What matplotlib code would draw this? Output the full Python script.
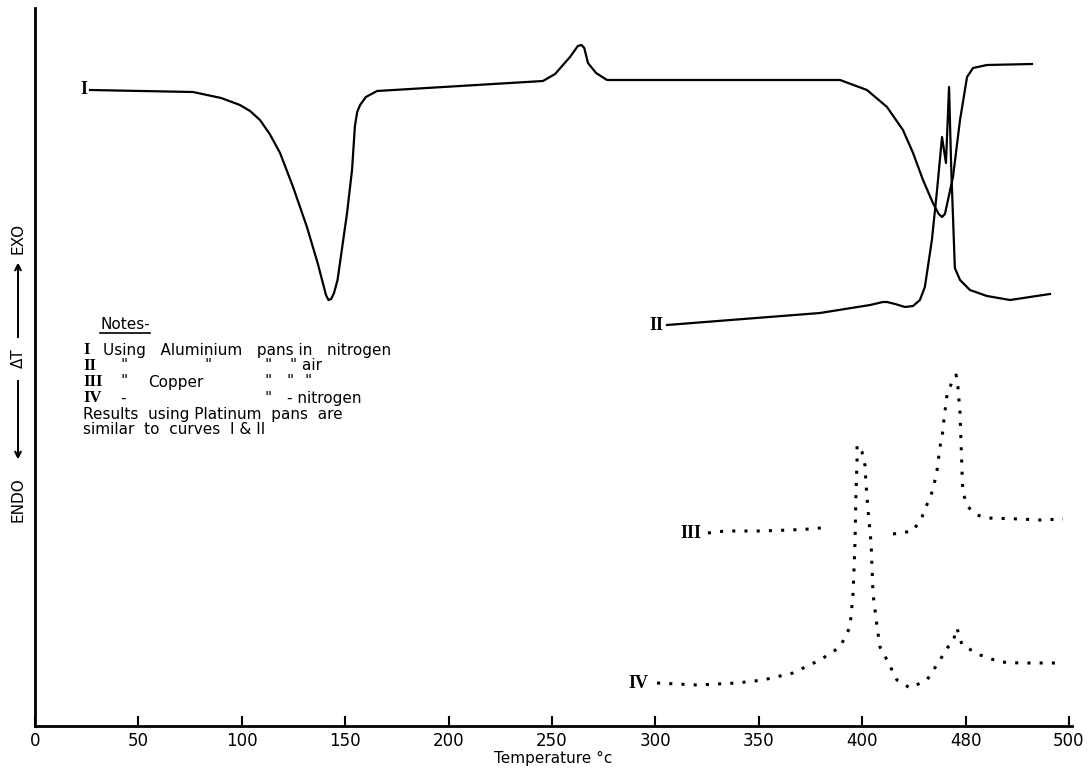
import matplotlib.pyplot as plt

# curve I  (aluminium pans, nitrogen)
t1 = [26.6, 76.4, 90.0, 99.1, 104.0, 108.8, 113.5, 118.5, 124.8, 131.5, 136.8, 139.2, 140.7,
      141.9, 143.2, 144.6, 146.3, 150.9, 153.3, 154.7, 155.8, 157.2, 160.0, 165.4, 205.5,
      245.6, 251.5, 258.7, 262.5, 264.3, 265.6, 267.4, 271.3, 276.6, 331.2, 389.3, 402.3,
      412.0, 419.7, 424.6, 429.4, 434.2, 437.0, 438.6, 440.0, 443.9, 447.3, 450.7, 453.6,
      460.3, 482.1]
y1 = [636, 634, 628, 621, 615, 606, 592, 573, 539, 499, 462, 443, 431,
      426, 427, 433, 446, 513, 556, 600, 614, 621, 629, 635, 640,
      645, 652, 669, 680, 681, 678, 663, 653, 646, 646, 646, 636,
      619, 596, 573, 546, 523, 512, 509, 512, 549, 606, 649, 658,
      661, 662]

# curve II  (aluminium pans, air)
t2 = [305.6, 379.6, 403.8, 410.0, 412.0, 415.9, 420.7, 424.6, 427.9, 430.3, 433.7, 436.2,
      438.6, 440.5, 442.0, 443.0, 444.8, 447.3, 452.1, 460.3, 471.5, 481.1, 490.8]
y2 = [401, 413, 421, 424, 424, 422, 419, 420, 426, 439, 486, 536,
      589, 563, 639, 561, 458, 446, 436, 430, 426, 429, 432]

# curve III  (copper pans, air) - two pieces
t3a = [325.4, 333.7, 350.6, 365.1, 374.8, 384.4]
y3a = [193, 195, 195, 196, 197, 199]
t3b = [414.9, 424.6, 428.9, 431.8, 434.2, 436.2, 437.6, 439.1, 439.5, 441.0, 443.4, 445.4,
       446.3, 447.3, 447.8, 448.3, 448.7, 451.2, 455.5, 460.3, 476.3, 486.0, 497.1]
y3b = [192, 195, 209, 224, 236, 256, 279, 296, 306, 331, 344, 351,
       339, 313, 283, 253, 233, 219, 211, 208, 207, 206, 207]

# curve IV  (copper pans, nitrogen)
t4 = [300.8, 320.1, 339.5, 352.0, 366.5, 379.6, 389.3, 394.1, 395.6, 396.5, 397.0, 397.5,
      397.5, 399.9, 401.4, 401.8, 402.8, 404.3, 405.2, 407.2, 408.6, 412.0, 416.8, 423.1,
      431.3, 437.6, 441.5, 443.9, 445.8, 448.3, 457.0, 466.6, 476.3, 494.2]
y4 = [43, 41, 43, 46, 53, 66, 79, 99, 133, 183, 233, 266,
      281, 274, 260, 243, 216, 183, 133, 99, 79, 66, 46, 38,
      46, 66, 79, 84, 98, 81, 71, 64, 63, 63]

xticks = [0, 50, 100, 150, 200, 250, 300, 350, 400, 450, 500]
xlabels = ['0', '50', '100', '150', '200', '250', '300', '350', '400', '480', '500']

notes = ['I', 'II', 'III', 'IV']

fig = plt.figure(figsize=(10.88, 7.72), dpi=100)
ax = fig.add_axes([35/1088, 46/772, 1037/1088, 718/772])
ax.set_xlim(0, 500 * 1037 / 1034)
ax.set_ylim(0, 718)

ax.plot(t1, y1, color='black', lw=1.6)
ax.plot(t2, y2, color='black', lw=1.6)
dots = (0, (1, 3))
ax.plot(t3a, y3a, color='black', lw=2.2, linestyle=dots)
ax.plot(t3b, y3b, color='black', lw=2.2, linestyle=dots)
ax.plot(t4, y4, color='black', lw=2.2, linestyle=dots)

# curve labels
lab = dict(ha='right', va='center', family='Liberation Serif', fontsize=13, fontweight='bold')
ax.text(t1[0] - 1.5, y1[0], 'I', **lab)
ax.text(t2[0] - 1.5, y2[0], 'II', **lab)
ax.text(t3a[0] - 3, y3a[0], 'III', **lab)
ax.text(t4[0] - 4, y4[0], 'IV', **lab)

for s in ['top', 'right']:
    ax.spines[s].set_visible(False)
for s in ['left', 'bottom']:
    ax.spines[s].set_linewidth(2)
ax.set_yticks([])
ax.set_xticks(xticks)
ax.set_xticklabels(xlabels, fontsize=12)
ax.tick_params(axis='x', direction='in', length=7, width=1.5, pad=4)
ax.set_xlabel('Temperature °c', fontsize=11, labelpad=1)

# notes block (pixel positions)
def px(x, y):
    return x / 1088, 1 - y / 772

fs = 11
fig.text(*px(100, 325), 'Notes-', fontsize=fs, va='center')
fig.add_artist(plt.Line2D([100/1088, 150/1088], [1 - 333/772, 1 - 333/772], color='black', lw=1.2))
rows = [350, 366, 382, 398, 414, 430]
serif = dict(family='Liberation Serif', fontweight='bold', fontsize=12, va='center')
for num, yy in zip(notes, rows[:4]):
    fig.text(*px(83, yy), num, **serif)
fig.text(*px(103, rows[0]), 'Using   Aluminium   pans in   nitrogen', fontsize=fs, va='center')
fig.text(*px(120, rows[1]), '"', fontsize=fs, va='center')
fig.text(*px(205, rows[1]), '"', fontsize=fs, va='center')
fig.text(*px(265, rows[1]), '"', fontsize=fs, va='center')
fig.text(*px(290, rows[1]), '" air', fontsize=fs, va='center')
fig.text(*px(120, rows[2]), '"', fontsize=fs, va='center')
fig.text(*px(148, rows[2]), 'Copper', fontsize=fs, va='center')
fig.text(*px(265, rows[2]), '"', fontsize=fs, va='center')
fig.text(*px(287, rows[2]), '"', fontsize=fs, va='center')
fig.text(*px(305, rows[2]), '"', fontsize=fs, va='center')
fig.text(*px(120, rows[3]), '-', fontsize=fs, va='center')
fig.text(*px(265, rows[3]), '"', fontsize=fs, va='center')
fig.text(*px(287, rows[3]), '- nitrogen', fontsize=fs, va='center')
fig.text(*px(83, rows[4]), 'Results  using Platinum  pans  are', fontsize=fs, va='center')
fig.text(*px(83, rows[5]), 'similar  to  curves  I & II', fontsize=fs, va='center')

# ENDO <-- dT --> EXO
fig.text(*px(18, 238), 'EXO', rotation=90, ha='center', va='center', fontsize=11)
fig.text(*px(18, 358), 'ΔT', rotation=90, ha='center', va='center', fontsize=11)
fig.text(*px(18, 500), 'ENDO', rotation=90, ha='center', va='center', fontsize=11)
fig.add_artist(plt.annotate('', xy=px(18, 260), xytext=px(18, 340), xycoords='figure fraction',
                            arrowprops=dict(arrowstyle='->', lw=1.3, color='black')))
fig.add_artist(plt.annotate('', xy=px(18, 462), xytext=px(18, 378), xycoords='figure fraction',
                            arrowprops=dict(arrowstyle='->', lw=1.3, color='black')))

fig.savefig('out.png', dpi=100)
